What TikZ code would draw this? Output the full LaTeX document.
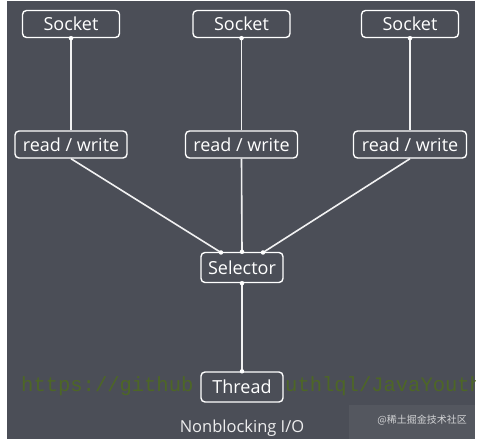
\documentclass[tikz,border=0pt]{standalone}
\usepackage{fontspec}
\setmainfont{Open Sans}
\newfontfamily\urlfont{Liberation Mono}
\newfontfamily\cjkfont{Noto Sans CJK SC}
\definecolor{panel}{HTML}{4B4E57}
\definecolor{urlgreen}{HTML}{4E6B1E}
\begin{document}
\begin{tikzpicture}[x=1pt,y=-1pt,
  box/.style={draw=white,line width=1.4pt,rounded corners=4pt,fill=panel,text=white,
    font=\fontsize{18}{20}\selectfont,inner sep=0pt,anchor=center},
  link/.style={draw=white!92!panel,line width=1.6pt},
  dot/.style={circle,fill=white,inner sep=0pt,minimum size=4.5pt},
  urltext/.style={font=\urlfont\fontsize{20.5}{22}\selectfont,text=urlgreen,anchor=west,inner sep=0pt,opacity=0.85}]
\useasboundingbox (0,0) rectangle (482,443);
\fill[white] (0,0) rectangle (482,443);
\fill[panel] (7,1) rectangle (475,439);
% watermark url (middle part hidden behind the Thread box)
\begin{scope}
\clip (7,1) rectangle (475,439);
\node[urltext] (url1) at (21,386) {https://github};
\node[urltext] (url2) at (285,386) {uthlql/JavaYouth};
\end{scope}
% sockets
\node[box,minimum width=97pt,minimum height=27pt] (s1) at (71,24) {Socket};
\node[box,minimum width=97pt,minimum height=27pt] (s2) at (241.5,24) {Socket};
\node[box,minimum width=97pt,minimum height=27pt] (s3) at (410,24) {Socket};
% read/write
\node[box,minimum width=112pt,minimum height=27pt] (r1) at (71,144.5) {read / write};
\node[box,minimum width=112pt,minimum height=27pt] (r2) at (241.5,144.5) {read / write};
\node[box,minimum width=113pt,minimum height=27pt] (r3) at (410,144.5) {read / write};
% selector, thread
\node[box,minimum width=82pt,minimum height=30pt] (sel) at (242,267.5) {Selector};
\coordinate (selL) at (221,252.5);
\coordinate (selR) at (263,252.5);
\draw[link] (s1.south) -- (r1.north);
\draw[link] (s2.south) -- (r2.north);
\draw[link] (s3.south) -- (r3.north);
\draw[link] (r1.south) -- (selL);
\draw[link] (r2.south) -- (sel.north);
\draw[link] (r3.south) -- (selR);
\draw[link] (sel.south) -- (242,372);
\node[box,minimum width=82pt,minimum height=30pt] (th) at (242,387) {Thread};
\node[dot] at (s1.south) {};
\node[dot] at (s2.south) {};
\node[dot] at (s3.south) {};
\node[dot] at (selL) {};
\node[dot] at (selR) {};
\node[dot] at (sel.north) {};
\node[dot] at (sel.south) {};
\node[dot] at (th.north) {};
\node[text=white!90!panel,font=\fontsize{16.5}{18}\selectfont,inner sep=0pt] (cap) at (242,428) {Nonblocking I/O};
% corner watermark
\fill[white,opacity=0.05] (349,405) rectangle (475,439);
\node[text=white!75!panel,font=\cjkfont\fontsize{10}{12}\selectfont,inner sep=0pt,anchor=east] (wm) at (467,420) {@稀土掘金技术社区};
\end{tikzpicture}
\end{document}
